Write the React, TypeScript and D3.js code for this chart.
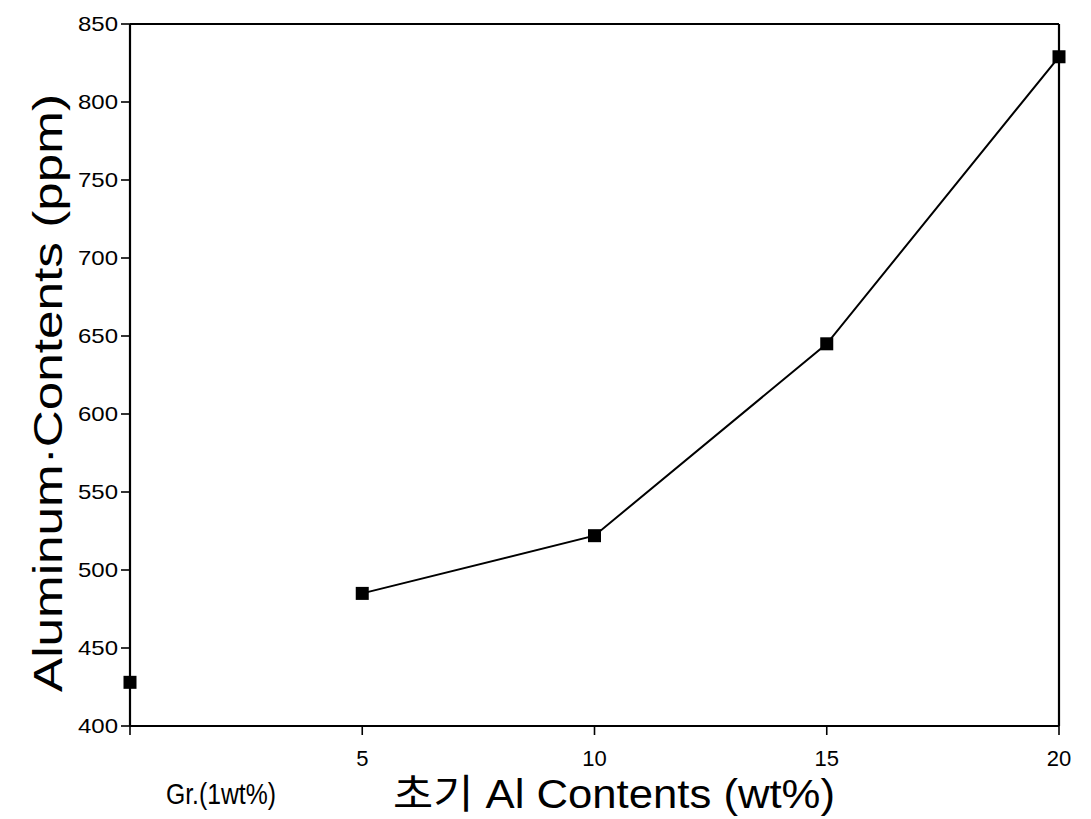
import * as d3 from "d3";
import React from "react";

// values
const xValues = [5, 10, 15, 20];
const alValues = [485, 522, 645, 829];
const grX = 0;
const grValue = 428;
const grLabel = "Gr.(1wt%)";
const yTicks = [400, 450, 500, 550, 600, 650, 700, 750, 800, 850];
const xTicks = [0, 5, 10, 15, 20];
const xTickLabels = ["", "5", "10", "15", "20"];

export default function App({
  width = 1091,
  height = 819,
  marginTop = 24,
  marginRight = 32,
  marginBottom = 93,
  marginLeft = 130
}) {
  const x = d3
    .scaleLinear()
    .domain([0, 20])
    .range([marginLeft, width - marginRight]);

  const y = d3
    .scaleLinear()
    .domain([400, 850])
    .range([height - marginBottom, marginTop]);

  const line = d3
    .line<number>()
    .x((d, i) => x(xValues[i]))
    .y((d) => y(d));

  const font = "'Liberation Sans', Arial, 'Noto Sans CJK KR', sans-serif";
  const x0 = x(0);
  const x1 = x(20);
  const y0 = y(400);
  const y1 = y(850);

  return (
    <svg
      width={width}
      height={height}
      style={{ position: "absolute", left: 0, top: 0, background: "#fff" }}
      fontFamily={font}
    >
      {/* frame */}
      <g stroke="#000" strokeWidth="2.2" fill="none">
        <line x1={x0} y1={y0} x2={x1} y2={y0} />
        <line x1={x0} y1={y0} x2={x0} y2={y1} />
        <line x1={x0} y1={y1} x2={x1} y2={y1} />
        <line x1={x1} y1={y0} x2={x1} y2={y1} />
      </g>

      {/* y axis ticks */}
      <g>
        {yTicks.map((t) => (
          <g key={t} transform={`translate(0,${y(t)})`}>
            <line x1={x0 - 9} x2={x0} stroke="#000" strokeWidth="1.6" />
            <text
              x={x0 - 12}
              dy="0.35em"
              textAnchor="end"
              fontSize="21"
              textLength={40}
              lengthAdjust="spacingAndGlyphs"
            >
              {t}
            </text>
          </g>
        ))}
      </g>

      {/* x axis ticks */}
      <g>
        {xTicks.map((t, i) => (
          <g key={t} transform={`translate(${x(t)},0)`}>
            <line y1={y0} y2={y0 + 9} stroke="#000" strokeWidth="1.6" />
            <text y={y0 + 40} textAnchor="middle" fontSize="22">
              {xTickLabels[i]}
            </text>
          </g>
        ))}
        <text
          x={x(grX) + 36}
          y={y0 + 78}
          fontSize="29"
          textLength={110}
          lengthAdjust="spacingAndGlyphs"
        >
          {grLabel}
        </text>
      </g>

      {/* data line */}
      <path fill="none" stroke="#000" strokeWidth="2" d={line(alValues) ?? ""} />

      {/* markers */}
      <g fill="#000">
        {alValues.map((d, i) => (
          <rect key={i} x={x(xValues[i]) - 6.5} y={y(d) - 6.5} width="13" height="13" />
        ))}
        <rect x={x(grX) - 6.5} y={y(grValue) - 6.5} width="13" height="13" />
      </g>

      {/* axis titles */}
      <text
        x={614}
        y={808}
        textAnchor="middle"
        fontSize="40"
        textLength={442}
        lengthAdjust="spacingAndGlyphs"
      >
        초기 Al Contents (wt%)
      </text>
      <text
        transform={`translate(62,${(y0 + y1) / 2 + 18}) rotate(-90)`}
        textAnchor="middle"
        fontSize="40"
        textLength={598}
        lengthAdjust="spacingAndGlyphs"
      >
        Aluminum·Contents (ppm)
      </text>
    </svg>
  );
}
